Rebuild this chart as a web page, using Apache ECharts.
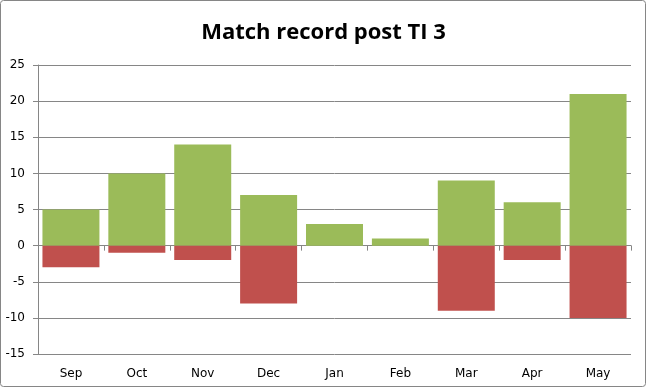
<!DOCTYPE html>
<html>
<head>
<meta charset="utf-8">
<script src="https://cdn.jsdelivr.net/npm/echarts@6/dist/echarts.min.js"></script>
<style>
html,body{margin:0;padding:0;background:#fff;}
#c{width:647px;height:388px;}
</style>
</head>
<body>
<div id="c"></div>
<script>
var categories = ['Sep','Oct','Nov','Dec','Jan','Feb','Mar','Apr','May'];
var wins = [5, 10, 14, 7, 3, 1, 9, 6, 21];
var losses = [-3, -1, -2, -8, 0, 0, -9, -2, -10];
var titleText = 'Match record post TI 3';

var chart = echarts.init(document.getElementById('c'));
var labelFont = {color:'#000', fontFamily:'DejaVu Sans', fontSize:12};
chart.setOption({
  animation:false,
  backgroundColor:'#fff',
  graphic:[{type:'rect', shape:{x:0.5,y:0.5,width:645,height:386,r:3}, style:{fill:'none',stroke:'#868686',lineWidth:1}, z:100}],
  title:{text:titleText, left:'center', top:17,
    textStyle:{fontFamily:'Open Sans', fontWeight:'bold', fontSize:22, color:'#000'}},
  grid:{left:38, right:16, top:65, bottom:34, containLabel:false},
  xAxis:[
    {type:'category', data:categories, position:'bottom',
     axisLine:{show:false, onZero:false}, axisTick:{show:false},
     axisLabel:Object.assign({margin:14}, labelFont), splitLine:{show:false}},
    {type:'category', data:categories, position:'bottom',
     axisLine:{show:true, onZero:true, lineStyle:{color:'#868686', width:1}},
     axisTick:{show:true, length:5, lineStyle:{color:'#868686'}},
     axisLabel:{show:false}, splitLine:{show:false}}
  ],
  yAxis:{type:'value', min:-15, max:25, interval:5,
    axisLine:{show:true, lineStyle:{color:'#868686'}},
    axisTick:{show:true, length:5, lineStyle:{color:'#868686'}},
    axisLabel:Object.assign({margin:13}, labelFont),
    splitLine:{show:true, lineStyle:{color:'#868686', width:1}}},
  series:[
    {type:'bar', name:'Won', data:wins, xAxisIndex:0, barGap:'-100%', barCategoryGap:'13.5%',
     itemStyle:{color:'#9BBB59'}},
    {type:'bar', name:'Lost', data:losses, xAxisIndex:0, barGap:'-100%', barCategoryGap:'13.5%',
     itemStyle:{color:'#C0504D'}}
  ]
});
</script>
</body>
</html>
